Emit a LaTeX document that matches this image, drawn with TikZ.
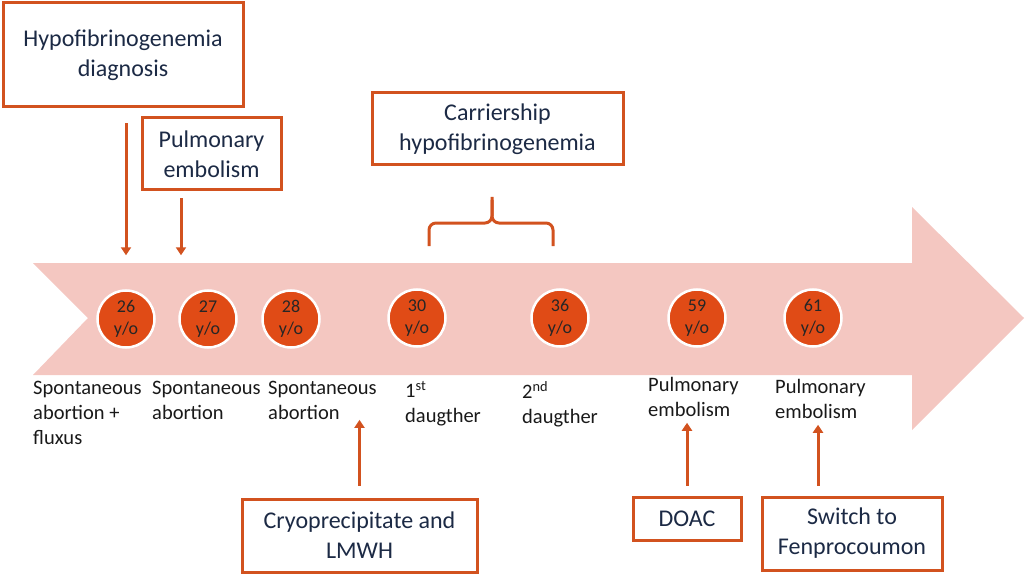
\documentclass[tikz,border=0pt]{standalone}
\usepackage{fontspec}
\setmainfont{Carlito}
\usetikzlibrary{arrows.meta}
\definecolor{timeline}{HTML}{F4C7C1}
\definecolor{accent}{HTML}{D2521F}
\definecolor{dot}{HTML}{E04B16}
\definecolor{boxtext}{HTML}{1C2A45}
\tikzstyle{eventbox} = [draw=accent, line width=3, fill=white, rectangle,
    align=center, text=boxtext, font=\fontsize{24}{30}\selectfont, inner sep=0pt]
\tikzstyle{agedot} = [circle, draw=white, line width=2.5, fill=dot, minimum size=57,
    inner sep=0pt, align=center, font=\fontsize{18}{22}\selectfont, text=black!85]
\tikzstyle{eventlabel} = [anchor=north west, align=left, inner sep=0pt,
    font=\fontsize{20.5}{25}\selectfont, text=black!90]
\tikzstyle{pointer} = [draw=accent, line width=3, -{Triangle[width=10pt,length=8pt]}]

\begin{document}
\begin{tikzpicture}[x=1pt,y=-1pt]
                \useasboundingbox (0,0) rectangle (1026,575);
                \fill[timeline] (33,263) -- (912,263) -- (912,207) -- (1024,318) -- (912,430)
                    -- (912,375) -- (33,375) -- (88,318) -- cycle;

                \node[agedot] (c26) at (126,319) {26\\y/o};
                \node[agedot] (c27) at (208,319) {27\\y/o};
                \node[agedot] (c28) at (291,319) {28\\y/o};
                \node[agedot] (c30) at (417,318) {30\\y/o};
                \node[agedot] (c36) at (560,318) {36\\y/o};
                \node[agedot] (c59) at (697,318) {59\\y/o};
                \node[agedot] (c61) at (813,318) {61\\y/o};

                \node[eventlabel] (la26) at (33,381) {Spontaneous\\abortion +\\fluxus};
                \node[eventlabel] (la27) at (152,381) {Spontaneous\\abortion};
                \node[eventlabel] (la28) at (268,381) {Spontaneous\\abortion};
                \node[eventlabel] (la30) at (405,381) {1\textsuperscript{st}\\daugther};
                \node[eventlabel] (la36) at (522,381) {2\textsuperscript{nd}\\daugther};
                \node[eventlabel] (la59) at (648,377) {Pulmonary\\embolism};
                \node[eventlabel] (la61) at (775,379) {Pulmonary\\embolism};

                \node[eventbox, minimum width=240, minimum height=104] (diag) at (123,55) {Hypofibrinogenemia\\diagnosis};
                \node[eventbox, minimum width=139, minimum height=72] (pe) at (211.5,154) {Pulmonary\\embolism};
                \node[eventbox, minimum width=251, minimum height=72] (carrier) at (497.5,129) {Carriership\\hypofibrinogenemia};
                \node[eventbox, minimum width=235, minimum height=73] (cryo) at (359.5,535.5) {Cryoprecipitate and\\LMWH};
                \node[eventbox, minimum width=108, minimum height=43] (doac) at (687,518.5) {DOAC};
                \node[eventbox, minimum width=180, minimum height=73] (switch) at (852,533.5) {Switch to\\Fenprocoumon};

                \draw[pointer, shorten <=15pt, shorten >=34pt] (c26.north |- diag.south) -- (c26.north);
                \draw[pointer, shorten <=7pt, shorten >=34pt] ([xshift=-30.5pt]pe.south) -- ([xshift=-27pt]c27.north);
                \draw[pointer, shorten <=12pt] (cryo.north) -- (cryo.north |- la28.south);
                \draw[pointer, shorten <=10pt, shorten >=6pt] (doac.north) -- (doac.north |- la59.south);
                \draw[pointer, shorten <=10pt, shorten >=6pt] ([xshift=-34pt]switch.north) -- ([xshift=-34pt]switch.north |- la61.south);

                \draw[accent, line width=3, rounded corners=7pt] (429,246) -- (429,223) -- (492,223) -- (492,197);
                \draw[accent, line width=3, rounded corners=7pt] (553,246) -- (553,223) -- (492,223) -- (492,200);
            \end{tikzpicture}
\end{document}
